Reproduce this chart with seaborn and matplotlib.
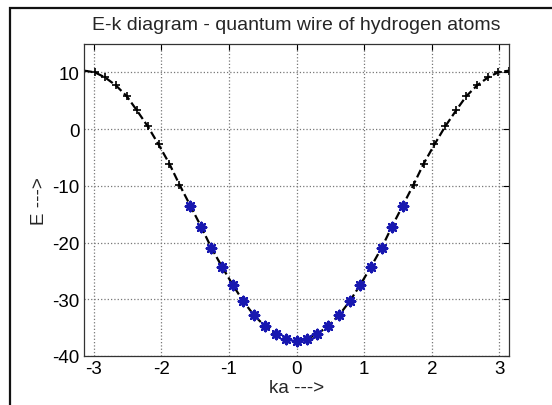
import numpy as np
import pandas as pd
import matplotlib
matplotlib.use("Agg")
import matplotlib.pyplot as plt
import seaborn as sns
from matplotlib.patches import Rectangle

# Data (ka in steps of about 0.157)
ka = [-3.14, -2.98, -2.83, -2.67, -2.51, -2.36, -2.20, -2.04, -1.88, -1.73,
      -1.57, -1.41, -1.26, -1.10, -0.94, -0.79, -0.63, -0.47, -0.31, -0.16,
      0.00, 0.16, 0.31, 0.47, 0.63, 0.79, 0.94, 1.10, 1.26, 1.41,
      1.57, 1.73, 1.88, 2.04, 2.20, 2.36, 2.51, 2.67, 2.83, 2.98, 3.14]
energy = [10.3, 10.0, 9.1, 7.7, 5.8, 3.3, 0.5, -2.7, -6.1, -9.8,
          -13.5, -17.2, -20.9, -24.3, -27.5, -30.3, -32.8, -34.7, -36.1, -37.0,
          -37.3, -37.0, -36.1, -34.7, -32.8, -30.3, -27.5, -24.3, -20.9, -17.2,
          -13.5, -9.8, -6.1, -2.7, 0.5, 3.3, 5.8, 7.7, 9.1, 10.0, 10.3]
xticks = [-3, -2, -1, 0, 1, 2, 3]
yticks = [-40, -30, -20, -10, 0, 10]

df = pd.DataFrame({"ka": ka, "E": energy})
band = df[(df["ka"] >= -1.58) & (df["ka"] <= 1.58)]

sns.set_style("white")
plt.rcParams["font.family"] = ["Liberation Sans", "DejaVu Sans"]
plt.rcParams["axes.unicode_minus"] = False

fig = plt.figure(figsize=(5.52, 4.06), dpi=100)
ax = fig.add_axes([84 / 552, 1 - 357 / 406, 425 / 552, 312 / 406])

sns.lineplot(data=df, x="ka", y="E", ax=ax, color="black", linestyle="--",
             linewidth=1.6, marker="+", markersize=6, markeredgewidth=1.2,
             markeredgecolor="black", sort=False)
sns.scatterplot(data=band, x="ka", y="E", ax=ax, marker=(8, 2, 0), s=45,
                color="#1818b0", edgecolor="#1818b0", linewidth=1.8, zorder=3)

ax.set_xlim(-np.pi, np.pi)
ax.set_ylim(-40, 15)
ax.set_xticks(xticks)
ax.set_yticks(yticks)
ax.grid(True, color="#777777", linestyle=":", linewidth=0.9)
ax.tick_params(direction="in", length=4, top=True, right=True, labelsize=13.5,
               colors="black", pad=3)
for s in ax.spines.values():
    s.set_color("#333333")
    s.set_linewidth(0.9)

ax.set_title("E-k diagram - quantum wire of hydrogen atoms", fontsize=14, pad=11)
ax.set_xlabel("ka --->", fontsize=13.5, labelpad=1)
ax.set_ylabel("E --->", fontsize=13.5, labelpad=3)

# outer frame of the screenshot (only left and top edges visible)
fig.add_artist(Rectangle((10 / 552, -0.1), 1.2, 1 - 9 / 406 + 0.1,
                         transform=fig.transFigure, fill=False,
                         edgecolor="#111111", linewidth=1.6, clip_on=False))

fig.savefig("out.png", dpi=100)
